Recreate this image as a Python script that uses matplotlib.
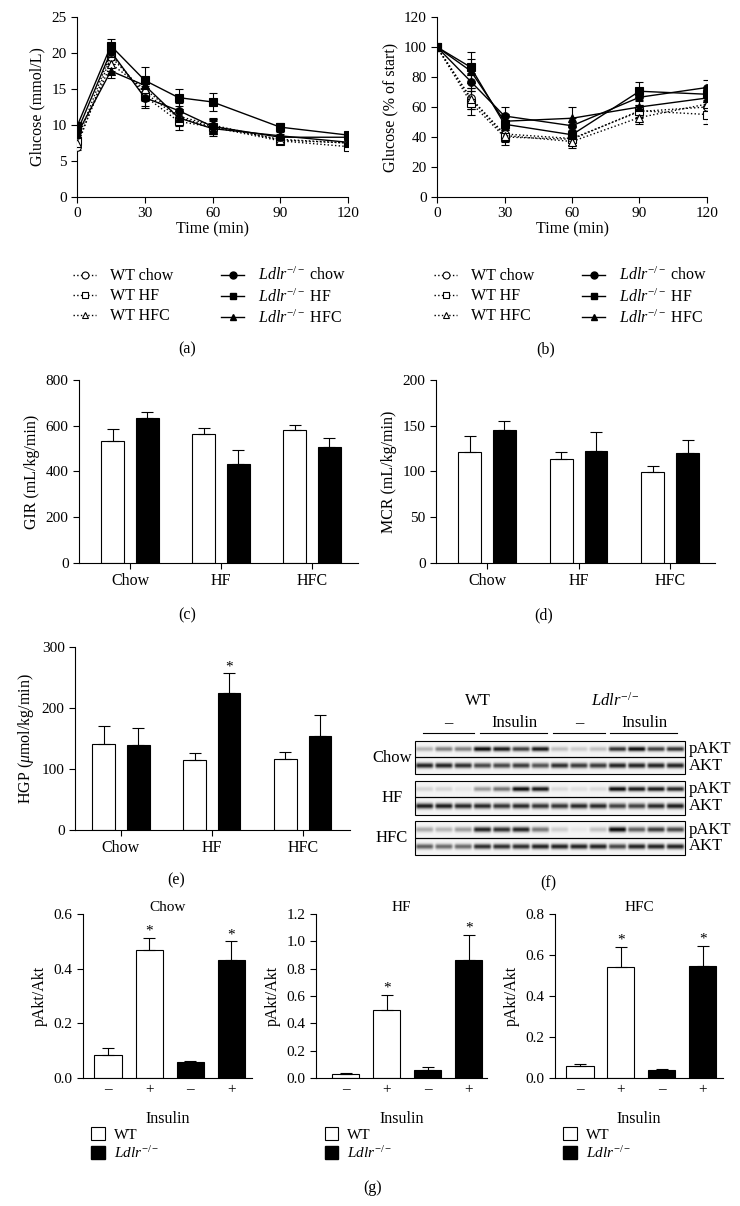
import matplotlib
matplotlib.use('Agg')
import matplotlib.pyplot as plt
import numpy as np
from matplotlib.lines import Line2D
from matplotlib.patches import Patch, Rectangle

plt.rcParams['font.family'] = ['Liberation Serif', 'DejaVu Serif']
plt.rcParams['mathtext.fontset'] = 'custom'
plt.rcParams['mathtext.rm'] = 'Liberation Serif'
plt.rcParams['mathtext.it'] = 'Liberation Serif:italic'
plt.rcParams['font.size'] = 11
plt.rcParams['axes.labelsize'] = 11.5
plt.rcParams['axes.linewidth'] = 0.8
plt.rcParams['xtick.major.width'] = 0.8
plt.rcParams['ytick.major.width'] = 0.8
plt.rcParams['xtick.major.size'] = 4
plt.rcParams['ytick.major.size'] = 4

KO = r'$\mathit{Ldlr}^{-/-}$'

# ---- (a) glucose tolerance, mmol/L
time_a = [0, 15, 30, 45, 60, 90, 120]
wt_chow_a = [7.0, 19.5, 14.5, 11.0, 9.8, 8.0, 7.5]
wt_chow_a_err = [0.5, 1.0, 1.2, 1.2, 1.0, 0.5, 0.4]
wt_hf_a = [7.8, 20.0, 14.0, 10.5, 9.7, 7.8, 7.0]
wt_hf_a_err = [0.5, 1.0, 1.4, 1.2, 1.0, 0.5, 0.4]
wt_hfc_a = [7.5, 18.5, 15.0, 11.2, 10.0, 7.9, 7.5]
wt_hfc_a_err = [0.5, 1.0, 1.2, 1.0, 1.0, 0.5, 0.4]
ko_chow_a = [9.0, 20.2, 13.8, 12.0, 9.8, 8.3, 8.3]
ko_chow_a_err = [0.6, 1.0, 1.4, 1.0, 1.0, 0.5, 0.4]
ko_hf_a = [9.8, 21.0, 16.2, 13.8, 13.2, 9.7, 8.6]
ko_hf_a_err = [0.6, 0.9, 1.8, 1.2, 1.3, 0.6, 0.4]
ko_hfc_a = [8.7, 17.5, 15.5, 11.0, 9.5, 8.5, 7.6]
ko_hfc_a_err = [0.6, 1.0, 1.2, 1.0, 1.0, 0.5, 0.4]

# ---- (b) glucose, % of start
time_b = [0, 15, 30, 60, 90, 120]
wt_chow_b = [100, 66, 42, 39, 57, 60]
wt_chow_b_err = [0, 7, 4, 4, 4, 5]
wt_hf_b = [100, 63, 40, 38.5, 57.5, 55]
wt_hf_b_err = [0, 8, 5, 4, 4, 6]
wt_hfc_b = [100, 65.5, 41, 37, 53, 62]
wt_hfc_b_err = [0, 7, 4, 4, 4, 5]
ko_chow_b = [100, 77, 54, 47.5, 66.5, 73]
ko_chow_b_err = [0, 6, 6, 5, 5, 5]
ko_hf_b = [100, 86.5, 48.5, 41.5, 70.5, 68.5]
ko_hf_b_err = [0, 10.5, 6, 5, 6.5, 5]
ko_hfc_b = [100, 84, 50.5, 52.5, 60, 66]
ko_hfc_b_err = [0, 8, 5, 7.5, 5, 5]

# ---- (c)-(e) clamp bars
diets = ['Chow', 'HF', 'HFC']
gir_wt = [535, 565, 580]
gir_wt_err = [52, 25, 24]
gir_ko = [633, 432, 507]
gir_ko_err = [27, 63, 39]
mcr_wt = [121, 114, 99]
mcr_wt_err = [18, 7, 7]
mcr_ko = [145, 122, 120]
mcr_ko_err = [10, 21, 14]
hgp_wt = [141, 115, 117]
hgp_wt_err = [29, 11, 11]
hgp_ko = [139, 225, 154]
hgp_ko_err = [28, 32, 35]

# ---- (f) western blot band darkness, 14 lanes (WT -, WT ins, KO -, KO ins)
pakt_chow = [0.25, 0.45, 0.45, 0.9, 0.85, 0.7, 0.85, 0.2, 0.15, 0.2, 0.75, 0.9, 0.7, 0.75]
akt_chow = [0.85, 0.85, 0.8, 0.7, 0.7, 0.75, 0.65, 0.8, 0.75, 0.75, 0.85, 0.85, 0.85, 0.85]
pakt_hf = [0.12, 0.12, 0.06, 0.35, 0.5, 0.9, 0.85, 0.1, 0.08, 0.1, 0.9, 0.85, 0.85, 0.8]
akt_hf = [0.85, 0.85, 0.8, 0.8, 0.75, 0.8, 0.75, 0.75, 0.8, 0.8, 0.7, 0.7, 0.8, 0.85]
pakt_hfc = [0.3, 0.25, 0.35, 0.85, 0.8, 0.85, 0.5, 0.15, 0.05, 0.2, 0.95, 0.6, 0.75, 0.7]
akt_hfc = [0.6, 0.55, 0.55, 0.8, 0.8, 0.8, 0.85, 0.85, 0.85, 0.85, 0.7, 0.85, 0.85, 0.85]

# ---- (g) pAkt/Akt quantification
insulin_ticks = ['\u2013', '+', '\u2013', '+']
chow_g = [0.085, 0.47, 0.057, 0.43]
chow_g_err = [0.023, 0.043, 0.004, 0.07]
hf_g = [0.028, 0.50, 0.06, 0.86]
hf_g_err = [0.005, 0.11, 0.02, 0.19]
hfc_g = [0.058, 0.54, 0.038, 0.545]
hfc_g_err = [0.01, 0.10, 0.005, 0.10]

W, H = 740, 1206
fig = plt.figure(figsize=(W / 100, H / 100), dpi=100)


def rect(l, r, t, b):
    return [l / W, 1 - b / H, (r - l) / W, (b - t) / H]


def clean(ax):
    ax.spines['top'].set_visible(False)
    ax.spines['right'].set_visible(False)
    ax.tick_params(direction='out')


def line_panel(r, t, series, ylim, yticks, ylabel):
    ax = fig.add_axes(r)
    for y, e, m, fc, ls in series:
        ax.errorbar(t, y, yerr=e, fmt='none', ecolor='black', elinewidth=0.8,
                    capsize=3, capthick=0.8, zorder=2)
        ax.plot(t, y, ls=ls, color='black', lw=1, marker=m, ms=5.5,
                mfc=fc, mec='black', mew=0.8, zorder=3)
    ax.set_xlim(0, 120)
    ax.set_ylim(*ylim)
    ax.set_xticks([0, 30, 60, 90, 120])
    ax.set_yticks(yticks)
    ax.set_xlabel('Time (min)', labelpad=1)
    ax.set_ylabel(ylabel)
    clean(ax)
    for s in ax.spines.values():
        s.set_clip_on(False)
    return ax


def legend_handles():
    hs = []
    for m in ['o', 's', '^']:
        hs.append(Line2D([], [], ls=':', color='black', lw=1, marker=m, ms=5,
                         mfc='white', mec='black', mew=0.8))
    for m in ['o', 's', '^']:
        hs.append(Line2D([], [], ls='-', color='black', lw=1, marker=m, ms=5,
                         mfc='black', mec='black'))
    labels = ['WT chow', 'WT HF', 'WT HFC', KO + ' chow', KO + ' HF', KO + ' HFC']
    return hs, labels


sa = [(wt_chow_a, wt_chow_a_err, 'o', 'white', ':'),
      (wt_hf_a, wt_hf_a_err, 's', 'white', ':'),
      (wt_hfc_a, wt_hfc_a_err, '^', 'white', ':'),
      (ko_chow_a, ko_chow_a_err, 'o', 'black', '-'),
      (ko_hf_a, ko_hf_a_err, 's', 'black', '-'),
      (ko_hfc_a, ko_hfc_a_err, '^', 'black', '-')]
ax_a = line_panel(rect(77, 348, 17, 197), time_a, sa, (0, 25), range(0, 26, 5), 'Glucose (mmol/L)')

sb = [(wt_chow_b, wt_chow_b_err, 'o', 'white', ':'),
      (wt_hf_b, wt_hf_b_err, 's', 'white', ':'),
      (wt_hfc_b, wt_hfc_b_err, '^', 'white', ':'),
      (ko_chow_b, ko_chow_b_err, 'o', 'black', '-'),
      (ko_hf_b, ko_hf_b_err, 's', 'black', '-'),
      (ko_hfc_b, ko_hfc_b_err, '^', 'black', '-')]
ax_b = line_panel(rect(437, 707, 17, 197), time_b, sb, (0, 120), range(0, 121, 20), 'Glucose (% of start)')

for ax, cx in [(ax_a, 210), (ax_b, 571)]:
    hs, labs = legend_handles()
    fig.legend(hs, labs, ncol=2, loc='upper center', bbox_to_anchor=(cx / W, 1 - 259 / H),
               frameon=False, handlelength=1.4, handletextpad=0.9, columnspacing=3.0,
               labelspacing=0.25, fontsize=11.5, borderpad=0)


def bar_panel(r, wt, wt_err, ko, ko_err, ylim, yticks, ylabel, xlim, star=None):
    ax = fig.add_axes(r)
    x = np.arange(len(diets))
    off, w = 0.19, 0.25
    ax.bar(x - off, wt, w, color='white', edgecolor='black', lw=0.8, zorder=2)
    ax.bar(x + off, ko, w, color='black', edgecolor='black', lw=0.8, zorder=2)
    z = np.zeros(len(diets))
    ax.errorbar(x - off, wt, yerr=[z, wt_err], fmt='none', ecolor='black', elinewidth=0.8,
                capsize=4, capthick=0.8, zorder=3)
    ax.errorbar(x + off, ko, yerr=[z, ko_err], fmt='none', ecolor='black', elinewidth=0.8,
                capsize=4, capthick=0.8, zorder=3)
    if star is not None:
        ax.text(star + off, ko[star] + ko_err[star], '*', ha='center', va='bottom', fontsize=11)
    ax.set_xlim(*xlim)
    ax.set_ylim(*ylim)
    ax.set_yticks(yticks)
    ax.set_xticks(x)
    ax.set_xticklabels(diets, fontsize=11.5)
    ax.set_ylabel(ylabel)
    clean(ax)
    return ax


bar_panel(rect(79, 358, 380, 563), gir_wt, gir_wt_err, gir_ko, gir_ko_err, (0, 800),
          range(0, 801, 200), 'GIR (mL/kg/min)', (-0.56, 2.505))
bar_panel(rect(436, 715, 380, 563), mcr_wt, mcr_wt_err, mcr_ko, mcr_ko_err, (0, 200),
          range(0, 201, 50), 'MCR (mL/kg/min)', (-0.557, 2.49))
bar_panel(rect(75, 350, 647, 830), hgp_wt, hgp_wt_err, hgp_ko, hgp_ko_err, (0, 300),
          range(0, 301, 100), r'HGP ($\mu$mol/kg/min)', (-0.505, 2.52), star=1)


def g_panel(r, vals, errs, ymax, title, xlim):
    ax = fig.add_axes(r)
    x = np.arange(4)
    cols = ['white', 'white', 'black', 'black']
    ax.bar(x, vals, 0.66, color=cols, edgecolor='black', lw=0.8, zorder=2)
    ax.errorbar(x, vals, yerr=[np.zeros(4), errs], fmt='none', ecolor='black', elinewidth=0.8,
                capsize=4, capthick=0.8, zorder=3)
    for i in [1, 3]:
        ax.text(i, vals[i] + errs[i], '*', ha='center', va='bottom', fontsize=11)
    ax.set_xlim(*xlim)
    ax.set_ylim(0, ymax)
    yt = np.round(np.arange(0, ymax + 1e-9, 0.2), 1)
    ax.set_yticks(yt)
    ax.set_yticklabels(['%.1f' % v for v in yt])
    ax.set_xticks(x)
    ax.set_xticklabels(insulin_ticks)
    ax.tick_params(axis='x', length=0)
    ax.set_xlabel('Insulin', labelpad=11)
    ax.set_ylabel('pAkt/Akt')
    ax.set_title(title, fontsize=11, pad=-2)
    clean(ax)
    ax.legend([Patch(fc='white', ec='black', lw=0.8), Patch(fc='black', ec='black')],
              ['WT', KO], loc='upper left', bbox_to_anchor=(0.05, -0.3), frameon=False,
              handlelength=0.9, handleheight=0.9, labelspacing=0.2, handletextpad=0.6,
              borderaxespad=0, borderpad=0, fontsize=11)
    return ax


g_panel(rect(83, 252, 914, 1078), chow_g, chow_g_err, 0.6, 'Chow', (-0.61, 3.51))
g_panel(rect(316, 487, 914, 1078), hf_g, hf_g_err, 1.2, 'HF', (-0.72, 3.44))
g_panel(rect(555, 723, 914, 1078), hfc_g, hfc_g_err, 0.8, 'HFC', (-0.61, 3.49))

# overlay in pixel coordinates for blot and panel letters
ov = fig.add_axes([0, 0, 1, 1])
ov.axis('off')


def strip(levels, nrow=16, per=20):
    yy = np.linspace(-1, 1, nrow)[:, None]
    xx = np.linspace(-1, 1, per)[None, :]
    band = np.exp(-(yy / 0.32) ** 2) * np.clip(1.25 - np.abs(xx) ** 4, 0, 1)
    return 0.04 + np.hstack([lv * band for lv in levels])


bx0, bx1 = 415, 685
blot = [('Chow', pakt_chow, akt_chow, 741, 757, 774),
        ('HF', pakt_hf, akt_hf, 781, 797, 815),
        ('HFC', pakt_hfc, akt_hfc, 821, 838, 855)]
for name, p, a, t, m, b in blot:
    ov.imshow(strip(p), extent=(bx0, bx1, m, t), cmap='gray_r', vmin=0, vmax=1,
              aspect='auto', interpolation='bilinear')
    ov.imshow(strip(a), extent=(bx0, bx1, b, m), cmap='gray_r', vmin=0, vmax=1,
              aspect='auto', interpolation='bilinear')
    ov.add_patch(Rectangle((bx0, t), bx1 - bx0, m - t, fill=False, lw=0.8, ec='black'))
    ov.add_patch(Rectangle((bx0, m), bx1 - bx0, b - m, fill=False, lw=0.8, ec='black'))
    ov.text(392, (t + b) / 2, name, ha='center', va='center', fontsize=12)
    ov.text(689, (t + m) / 2, 'pAKT', ha='left', va='center', fontsize=12)
    ov.text(689, (m + b) / 2, 'AKT', ha='left', va='center', fontsize=12)

ov.text(478, 701, 'WT', ha='center', va='center', fontsize=12)
ov.text(615, 701, KO, ha='center', va='center', fontsize=12)
for xc, s, (l, r) in [(448, '\u2013', (423, 474)), (514, 'Insulin', (480, 547)),
                      (579, '\u2013', (553, 605)), (644, 'Insulin', (610, 677))]:
    ov.text(xc, 723, s, ha='center', va='center', fontsize=12)
    ov.plot([l, r], [733, 733], color='black', lw=0.8)

for s, x, y in [('(a)', 187, 349), ('(b)', 546, 349), ('(c)', 187, 615), ('(d)', 544, 615),
                ('(e)', 176, 880), ('(f)', 548, 883), ('(g)', 373, 1188)]:
    ov.text(x, y, s, ha='center', va='center', fontsize=11.5)

ov.set_xlim(0, W)
ov.set_ylim(H, 0)

fig.savefig('out.png', dpi=100)
